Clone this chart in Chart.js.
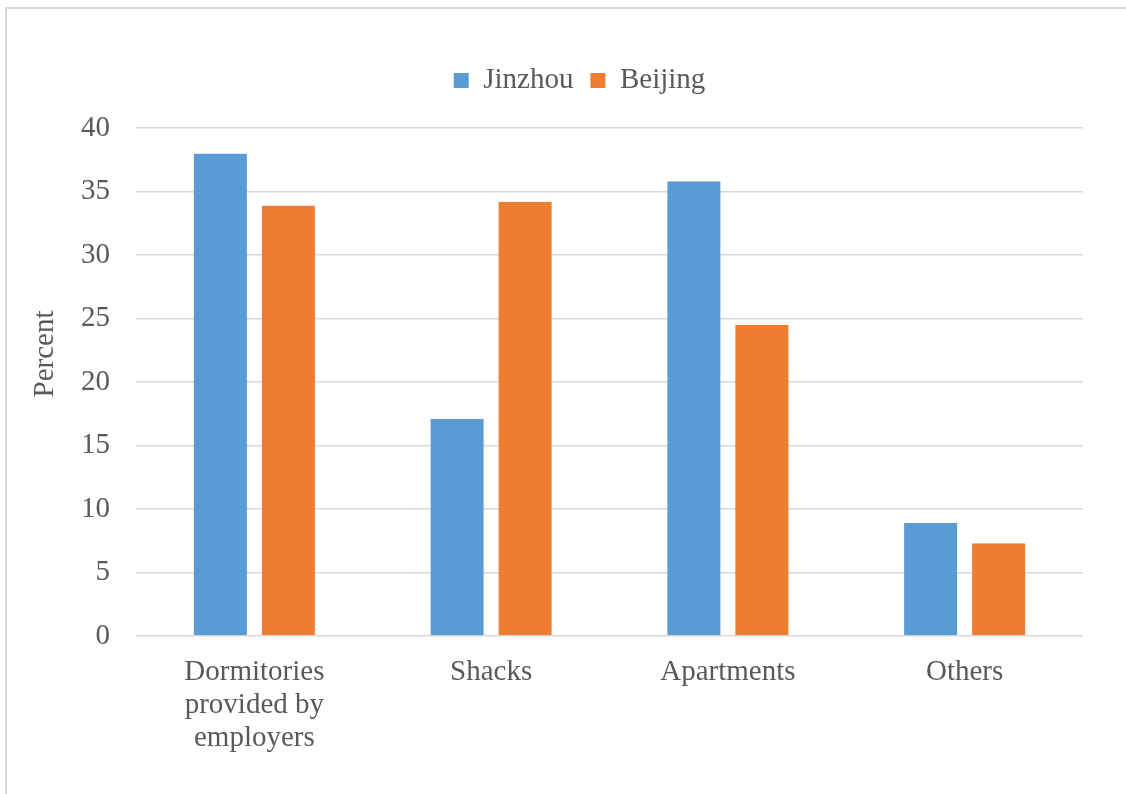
<!DOCTYPE html>
<html>
<head>
<meta charset="utf-8">
<title>Housing of migrant workers</title>
<script src="https://cdn.jsdelivr.net/npm/chart.js@4/dist/chart.umd.min.js"></script>
<style>
  html, body { margin: 0; padding: 0; background: #ffffff; overflow: hidden; }
  #frame {
    position: absolute; left: 5px; top: 7px; width: 1200px; height: 900px;
    border-top: 2px solid #d9d9d9; border-left: 2px solid #d9d9d9;
    box-sizing: border-box;
  }
  #wrap { position: absolute; left: 0; top: 0; width: 1126px; height: 794px; }
</style>
</head>
<body>
<div id="frame"></div>
<div id="wrap"><canvas id="chart" width="1126" height="794"></canvas></div>
<script>
// Housing type categories (multi-line labels)
const categories = [
  ['Dormitories', 'provided by', 'employers'],
  'Shacks',
  'Apartments',
  'Others'
];
const seriesNames = ['Jinzhou', 'Beijing'];
const jinzhouValues = [38.0, 17.1, 35.8, 8.9];
const beijingValues = [33.9, 34.2, 24.5, 7.3];
const yTickMin = 0;
const yTickMax = 40;
const yTickStep = 5;
const yTitle = 'Percent';

const SERIF = '"Liberation Serif", "Times New Roman", serif';
const TEXT = '#595959';
const GRID = '#d9d9d9';

// Rotated y-axis title, placed a little above the plot's middle
const yTitlePlugin = {
  id: 'yTitle',
  afterDraw(chart) {
    const ctx = chart.ctx;
    ctx.save();
    ctx.translate(53, 354);
    ctx.rotate(-Math.PI / 2);
    ctx.font = '29px ' + SERIF;
    ctx.fillStyle = TEXT;
    ctx.textAlign = 'center';
    ctx.textBaseline = 'alphabetic';
    ctx.fillText(yTitle, 0, 0);
    ctx.restore();
  }
};

// Give the legend a fixed height so the plot starts at the right place
const legendHeightPlugin = {
  id: 'legendHeight',
  beforeInit(chart) {
    const origFit = chart.legend.fit;
    chart.legend.fit = function () {
      origFit.call(this);
      this.height = 79;
    };
  }
};

const gap = { left: 7.5, right: 7.5, top: 0, bottom: 0 };

new Chart(document.getElementById('chart'), {
  type: 'bar',
  data: {
    labels: categories,
    datasets: [
      {
        label: seriesNames[0],
        data: jinzhouValues,
        backgroundColor: '#5b9bd5',
        borderColor: 'rgba(0,0,0,0)',
        borderWidth: gap,
        categoryPercentage: 0.5745,
        barPercentage: 1.0
      },
      {
        label: seriesNames[1],
        data: beijingValues,
        backgroundColor: '#ed7d31',
        borderColor: 'rgba(0,0,0,0)',
        borderWidth: gap,
        categoryPercentage: 0.5745,
        barPercentage: 1.0
      }
    ]
  },
  options: {
    responsive: false,
    animation: false,
    devicePixelRatio: 1,
    layout: { padding: { left: 76, right: 43, top: 49, bottom: 0 } },
    plugins: {
      tooltip: { enabled: false },
      legend: {
        display: true,
        position: 'top',
        labels: {
          boxWidth: 15,
          boxHeight: 15,
          padding: 17,
          color: TEXT,
          font: { family: SERIF, size: 29 }
        }
      }
    },
    scales: {
      x: {
        grid: { display: false, drawTicks: false },
        border: { display: false },
        ticks: {
          color: TEXT,
          padding: 20,
          maxRotation: 0,
          autoSkip: false,
          font: { family: SERIF, size: 29, lineHeight: 1.14 }
        },
        afterFit(scale) { scale.height = 158; }
      },
      y: {
        min: yTickMin,
        max: yTickMax,
        grid: { color: GRID, lineWidth: 1.5, drawTicks: false },
        border: { display: false },
        ticks: {
          stepSize: yTickStep,
          color: TEXT,
          padding: 26,
          font: { family: SERIF, size: 29 }
        },
        afterFit(scale) { scale.width = 60; }
      }
    }
  },
  plugins: [yTitlePlugin, legendHeightPlugin]
});
</script>
</body>
</html>
